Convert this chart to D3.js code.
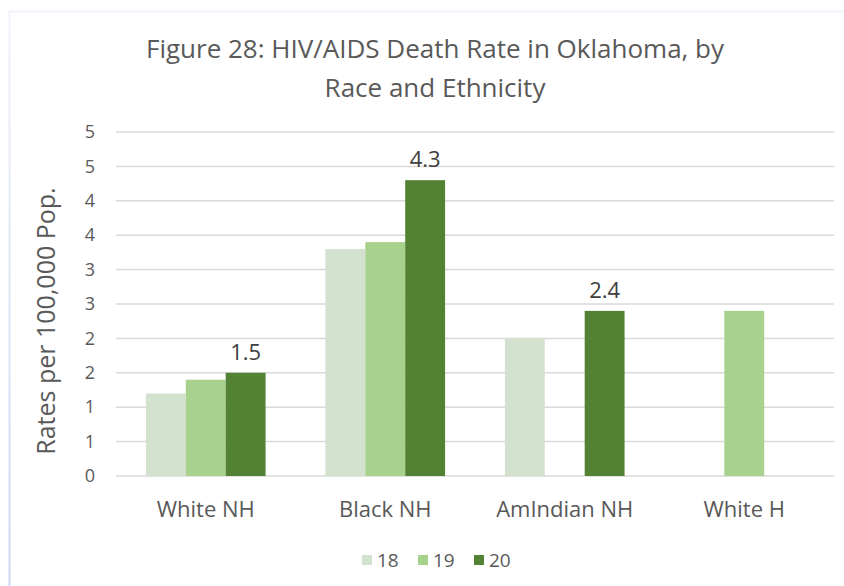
<!DOCTYPE html>
<html>
<head>
<meta charset="utf-8">
<script src="https://cdn.jsdelivr.net/npm/d3@7"></script>
<style>
  html, body { margin: 0; padding: 0; background: #fff; }
  svg { display: block; font-family: "Open Sans", "Noto Sans", sans-serif; }
</style>
</head>
<body>
<div id="chart"></div>
<script>
// Chart data
const categories = ['White NH', 'Black NH', 'AmIndian NH', 'White H'];
const seriesNames = ['18', '19', '20'];
const values18 = [1.2, 3.3, 2.0, null];
const values19 = [1.4, 3.4, null, 2.4];
const values20 = [1.5, 4.3, 2.4, null];
const yTicks = [0, 0.5, 1, 1.5, 2, 2.5, 3, 3.5, 4, 4.5, 5];
const yTickLabels = ['0', '1', '1', '2', '2', '3', '3', '4', '4', '5', '5'];
const titleLines = ['Figure 28: HIV/AIDS Death Rate in Oklahoma, by', 'Race and Ethnicity'];
const yTitle = 'Rates per 100,000 Pop.';

const colors = { '18': '#d3e2ce', '19': '#a9d18e', '20': '#548235' };
const series = [
    { name: '18', values: values18 },
    { name: '19', values: values19 },
    { name: '20', values: values20 }
];

const W = 844, H = 586;
const margin = { top: 132, right: 10, bottom: 110, left: 116 };
const width = W - margin.left - margin.right;
const height = H - margin.top - margin.bottom;

const svg = d3.select('#chart').append('svg')
    .attr('width', W)
    .attr('height', H);

// faint chart border (top and left edge only visible in crop)
const grad = svg.append('defs').append('linearGradient')
    .attr('id', 'edge').attr('x1', 0).attr('y1', 0).attr('x2', 0).attr('y2', 1);
grad.append('stop').attr('offset', '0%').attr('stop-color', '#f1f1fa');
grad.append('stop').attr('offset', '100%').attr('stop-color', '#cbdaf3');
svg.append('line').attr('x1', 9).attr('x2', W).attr('y1', 11.5).attr('y2', 11.5)
    .attr('stroke', '#f1f1fa').attr('stroke-width', 2);
svg.append('rect').attr('x', 8.5).attr('y', 11).attr('width', 2).attr('height', H - 11)
    .attr('fill', 'url(#edge)');

// Title
svg.append('g').selectAll('text')
    .data(titleLines)
    .enter()
    .append('text')
    .attr('x', 435)
    .attr('y', (d, i) => 58 + i * 39)
    .attr('text-anchor', 'middle')
    .style('font-size', '26px')
    .style('fill', '#595959')
    .text(d => d);

const g = svg.append('g').attr('transform', `translate(${margin.left},${margin.top})`);

const x0 = d3.scaleBand().domain(categories).range([0, width]).paddingInner(0).paddingOuter(0);
const groupPad = x0.bandwidth() / 4.5 * 0.75;
const x1 = d3.scaleBand().domain(seriesNames)
    .range([groupPad, x0.bandwidth() - groupPad]);
const y = d3.scaleLinear().domain([0, 5]).range([height, 0]);

// Gridlines
g.append('g')
    .selectAll('line')
    .data(yTicks)
    .enter()
    .append('line')
    .attr('x1', 0)
    .attr('x2', width)
    .attr('y1', d => y(d))
    .attr('y2', d => y(d))
    .attr('stroke', '#d9d9d9')
    .attr('stroke-width', 1.5);

// Y axis labels
const yAxis = d3.axisLeft(y)
    .tickValues(yTicks)
    .tickSize(0)
    .tickPadding(21)
    .tickFormat((d, i) => yTickLabels[i]);
g.append('g').call(yAxis)
    .call(a => a.select('.domain').remove())
    .selectAll('text')
    .style('font-size', '18px')
    .style('font-family', '"Open Sans", "Noto Sans", sans-serif')
    .style('fill', '#595959');

// Y title
svg.append('text')
    .attr('transform', `translate(55, 321) rotate(-90)`)
    .attr('text-anchor', 'middle')
    .style('font-size', '25px')
    .style('fill', '#595959')
    .text(yTitle);

// X axis labels
const xAxis = d3.axisBottom(x0).tickSize(0).tickPadding(25);
g.append('g').attr('transform', `translate(0,${height})`).call(xAxis)
    .call(a => a.select('.domain').remove())
    .selectAll('text')
    .style('font-size', '22px')
    .style('font-family', '"Open Sans", "Noto Sans", sans-serif')
    .style('fill', '#595959');

// Bars
const groups = g.selectAll('.grp')
    .data(categories)
    .enter()
    .append('g')
    .attr('class', 'grp')
    .attr('transform', d => `translate(${x0(d)},0)`);

groups.selectAll('rect')
    .data((c, ci) => series.map(s => ({ s: s.name, v: s.values[ci] })).filter(d => d.v != null))
    .enter()
    .append('rect')
    .attr('x', d => x1(d.s))
    .attr('y', d => y(d.v))
    .attr('width', x1.bandwidth())
    .attr('height', d => height - y(d.v))
    .attr('fill', d => colors[d.s]);

// Data labels on 2020 series
groups.selectAll('.lbl')
    .data((c, ci) => values20[ci] != null ? [{ s: '20', v: values20[ci] }] : [])
    .enter()
    .append('text')
    .attr('class', 'lbl')
    .attr('x', d => x1(d.s) + x1.bandwidth() / 2)
    .attr('y', d => y(d.v) - 13)
    .attr('text-anchor', 'middle')
    .style('font-size', '22px')
    .style('fill', '#404040')
    .text(d => d.v.toFixed(1));

// Legend
const legend = svg.append('g').attr('transform', 'translate(362, 555)');
const legendX = [0, 56, 112];
const li = legend.selectAll('g')
    .data(seriesNames)
    .enter()
    .append('g')
    .attr('transform', (d, i) => `translate(${legendX[i]},0)`);
li.append('rect').attr('x', 0).attr('y', 0).attr('width', 10).attr('height', 10)
    .attr('fill', d => colors[d]);
li.append('text').attr('x', 15).attr('y', 12)
    .style('font-size', '19px')
    .style('fill', '#595959')
    .text(d => d);
</script>
</body>
</html>
